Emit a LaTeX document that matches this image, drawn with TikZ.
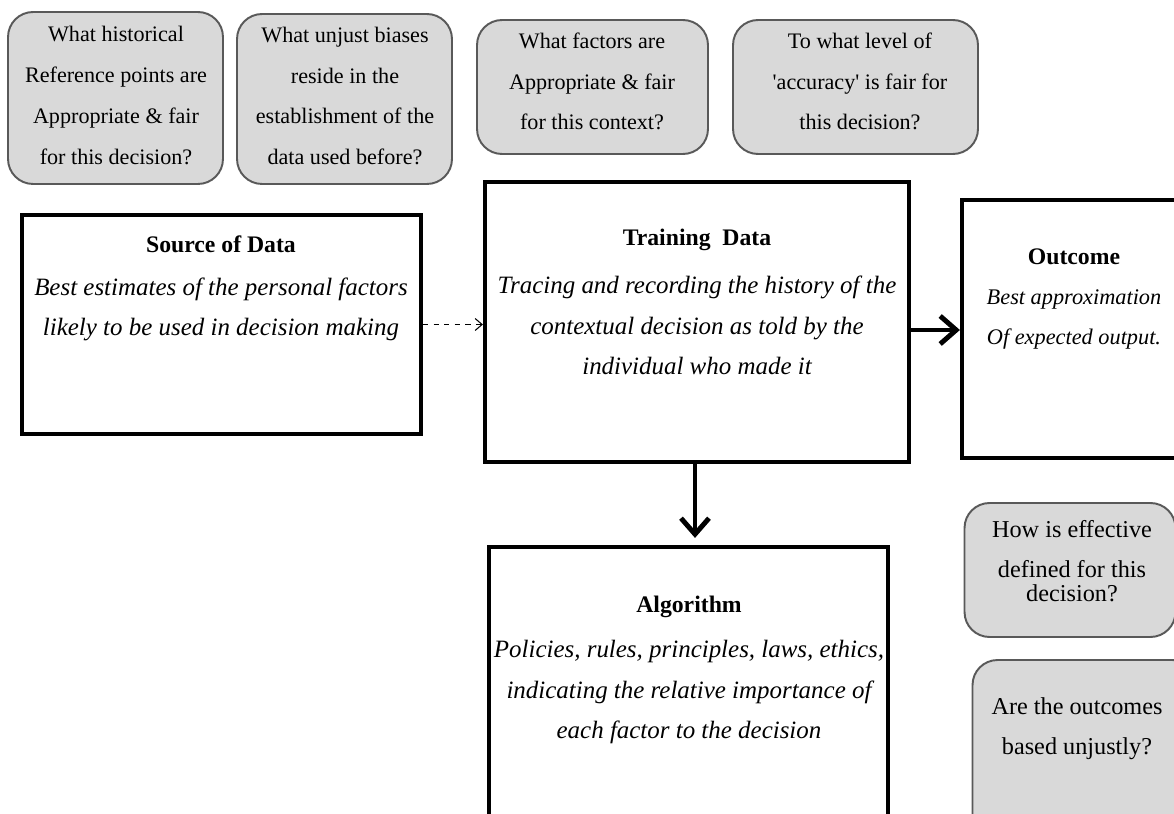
\documentclass[tikz,border=0pt]{standalone}
\usepackage{fontspec}
\setmainfont{Liberation Serif}
\usetikzlibrary{positioning, arrows.meta}
\definecolor{qFill}{HTML}{D9D9D9}
\definecolor{qEdge}{HTML}{595959}

\begin{document}
\begin{tikzpicture}[
  x=0.02cm, y=-0.02cm,
  every node/.style={align=center, inner sep=0pt},
  question/.style={
    fill=qFill,
    draw=qEdge,
    line width=1.1pt,
    rounded corners=0.5cm
  },
  qtext/.style={font=\fontsize{12.6}{23.2}\selectfont},
  qtextbig/.style={font=\fontsize{13.8}{22.7}\selectfont},
  stage/.style={draw=black, line width=2.4pt},
  title/.style={font=\fontsize{13.5}{16}\selectfont\bfseries},
  body/.style={font=\fontsize{14.2}{23.2}\selectfont\itshape},
  smallbody/.style={font=\fontsize{12.7}{23.2}\selectfont\itshape},
  link/.style={draw, line width=2.8pt, -{Straight Barb[length=3.2mm,width=5.6mm]}},
  dashlink/.style={draw, dashed, line width=0.6pt, -{Straight Barb[length=1.4mm,width=2.4mm]}}
]

\useasboundingbox (0,0) rectangle (1174,814);
\clip (0,0) rectangle (1174,814);

% question boxes
\node[question, minimum width=4.3cm, minimum height=3.44cm] (q1) at (115.5,98) {};
\node[question, minimum width=4.3cm, minimum height=3.4cm] (q2) at (344.5,99) {};
\node[question, minimum width=4.62cm, minimum height=2.68cm] (q3) at (592.5,87) {};
\node[question, minimum width=4.9cm, minimum height=2.68cm] (q4) at (855.5,87) {};
\node[question, minimum width=4.22cm, minimum height=2.68cm] (q5) at (1070,570) {};
\node[question, minimum width=4.5cm, minimum height=3.6cm] (q6) at (1085,750) {};

\node[qtext] (q1t) at (116,95.5)
{What historical\\Reference points are\\Appropriate \& fair\\for this decision?};
\node[qtext] (q2t) at (345,96)
{What unjust biases\\reside in the\\establishment of the\\data used before?};
\node[qtext] (q3t) at (592,81.5)
{What factors are\\Appropriate \& fair\\for this context?};
\node[qtext] (q4t) at (860,81.5)
{To what level of\\\textquotesingle accuracy\textquotesingle{} is fair for\\this decision?};
\node[qtextbig] (q5t) at (1072,561)
{How is effective\\defined for this\\[-9pt]decision?};
\node[qtextbig] (q6t) at (1077,729)
{Are the outcomes\\based unjustly?};

% main stages
\node[stage, minimum width=7.98cm, minimum height=4.38cm] (src) at (221.5,324.5) {};
\node[stage, minimum width=8.48cm, minimum height=5.6cm] (train) at (697,322) {};
\node[stage, minimum width=4.56cm, minimum height=5.16cm] (out) at (1076,329) {};
\node[stage, minimum width=7.98cm, minimum height=6cm] (alg) at (688.5,697) {};

\node[title] (srctitle) at (221,244) {Source of Data};
\node[body] (srcbody) at (221,309.5)
{Best estimates of the personal factors\\likely to be used in decision making};

\node[title] (traintitle) at (697,240) {Training\ \ Data};
\node[body] (trainbody) at (697,325.5)
{Tracing and recording the history of the\\contextual decision as told by the\\individual who made it};

\node[title] (outtitle) at (1074,257) {Outcome};
\node[smallbody] (outbody) at (1074,319.5)
{Best approximation\\Of expected output.};

\node[title] (algtitle) at (689,607) {Algorithm};
\node[body] (algbody) at (689,692)
{Policies, rules, principles, laws, ethics,\\indicating the relative importance of\\each factor to the decision};

% connectors
\draw[dashlink] (src.east) -- (src.east -| train.west);
\draw[link] ([yshift=-0.16cm]train.east) -- ([yshift=-0.16cm]train.east -| out.west);
\draw[link, shorten >=0.14cm] ([xshift=-0.04cm]train.south) -- ([xshift=-0.04cm]train.south |- alg.north);

\end{tikzpicture}
\end{document}
